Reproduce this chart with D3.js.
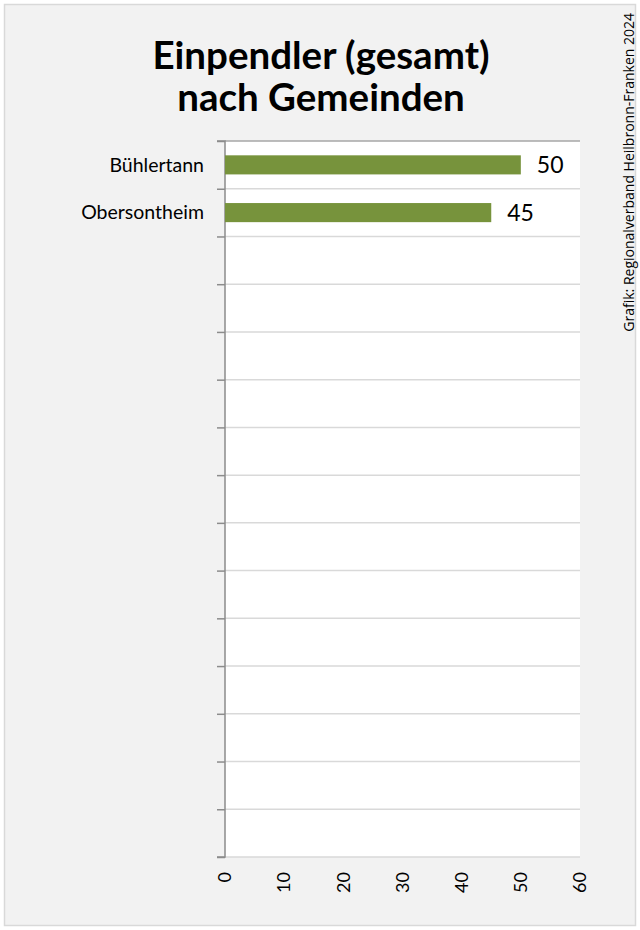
<!DOCTYPE html>
<html>
<head>
<meta charset="utf-8">
<script src="https://cdn.jsdelivr.net/npm/d3@7"></script>
<style>
  html, body { margin: 0; padding: 0; background: #ffffff; }
  svg { display: block; }
</style>
</head>
<body>
<svg id="chart" width="640" height="930"></svg>
<script>
// ---- data ----
const titleLines = ["Einpendler (gesamt)", "nach Gemeinden"];
const sourceText = "Grafik: Regionalverband Heilbronn-Franken 2024";
const categories = ["Bühlertann", "Obersontheim", "", "", "", "", "", "", "", "", "", "", "", "", ""];
const values = [50, 45];
const xTicks = [0, 10, 20, 30, 40, 50, 60];

// ---- layout ----
const svg = d3.select("#chart");
const W = 640, H = 930;
const plot = { left: 225, right: 580, top: 141, bottom: 857 };

svg.append("rect").attr("x", 4.5).attr("y", 4.5).attr("width", W - 9).attr("height", H - 9)
  .attr("fill", "#f2f2f2").attr("stroke", "#d9d9d9").attr("stroke-width", 1.5);

const x = d3.scaleLinear().domain([0, 60]).range([plot.left, plot.right]);
const y = d3.scaleBand().domain(d3.range(categories.length)).range([plot.top, plot.bottom]).paddingInner(0.6).paddingOuter(0.3);
const yRow = d3.scaleBand().domain(d3.range(categories.length)).range([plot.top, plot.bottom]);

// plot background
svg.append("rect").attr("x", plot.left).attr("y", plot.top)
  .attr("width", plot.right - plot.left).attr("height", plot.bottom - plot.top).attr("fill", "#ffffff");

// gridlines (row boundaries)
const bounds = d3.range(categories.length + 1).map(i => plot.top + i * yRow.step());
svg.append("g").selectAll("line").data(bounds).join("line")
  .attr("x1", plot.left).attr("x2", plot.right)
  .attr("y1", d => d).attr("y2", d => d)
  .attr("stroke", (d, i) => i === 0 ? "#a6a6a6" : "#d9d9d9").attr("stroke-width", 1.5);

// y axis
const yAxis = d3.axisLeft(d3.scaleLinear().domain([0, categories.length]).range([plot.top, plot.bottom]))
  .tickValues(d3.range(categories.length + 1)).tickSize(8).tickFormat("");
const ga = svg.append("g").attr("transform", `translate(${plot.left},0)`).call(yAxis);
ga.select(".domain").attr("stroke", "#8c8c8c").attr("stroke-width", 1.5).attr("d", `M-8,${plot.top}H0V${plot.bottom}H-8`);
ga.selectAll(".tick line").attr("stroke", "#8c8c8c").attr("stroke-width", 1.5);

// category labels
svg.append("g").selectAll("text").data(categories).join("text")
  .attr("x", 204).attr("y", (d, i) => yRow(i) + yRow.bandwidth() / 2)
  .attr("dy", "0.35em").attr("text-anchor", "end")
  .attr("font-family", "Lato, sans-serif").attr("font-size", 19.5).attr("fill", "#000")
  .text(d => d);

// bars
svg.append("g").selectAll("rect").data(values).join("rect")
  .attr("x", x(0)).attr("y", (d, i) => y(i))
  .attr("width", d => x(d) - x(0)).attr("height", y.bandwidth())
  .attr("fill", "#77933c");

// value labels
svg.append("g").selectAll("text").data(values).join("text")
  .attr("x", d => x(d) + 16).attr("y", (d, i) => yRow(i) + yRow.bandwidth() / 2)
  .attr("dy", "0.36em")
  .attr("font-family", "Lato, sans-serif").attr("font-size", 23).attr("fill", "#000")
  .text(d => d);

// x tick labels (rotated)
svg.append("g").selectAll("text").data(xTicks).join("text")
  .attr("transform", d => `translate(${x(d)},872) rotate(-90)`)
  .attr("text-anchor", "end").attr("dy", "0.35em")
  .attr("font-family", "Lato, sans-serif").attr("font-size", 18).attr("fill", "#000")
  .text(d => d);

// title
svg.append("g").selectAll("text").data(titleLines).join("text")
  .attr("x", 321).attr("y", (d, i) => 69 + i * 42)
  .attr("text-anchor", "middle")
  .attr("font-family", "Lato, sans-serif").attr("font-weight", "bold").attr("font-size", 38.5).attr("fill", "#000")
  .text(d => d);

// source
svg.append("text")
  .attr("transform", "translate(634,13) rotate(-90)")
  .attr("text-anchor", "end")
  .attr("font-family", "'Open Sans', sans-serif").attr("font-size", 14).attr("fill", "#000")
  .text(sourceText);
</script>
</body>
</html>
